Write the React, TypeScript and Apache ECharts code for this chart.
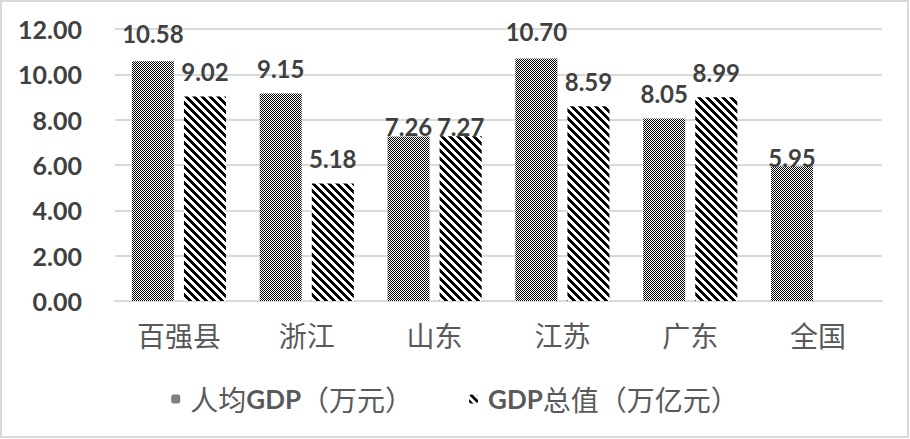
import React, { useEffect, useRef } from "react";
import * as echarts from "echarts";

const categories = ["百强县", "浙江", "山东", "江苏", "广东", "全国"];
const perCapita = [10.58, 9.15, 7.26, 10.7, 8.05, 5.95];
const totalGdp: (number | null)[] = [9.02, 5.18, 7.27, 8.59, 8.99, null];
const seriesNames = ["人均GDP（万元）", "GDP总值（万亿元）"];
const yTicks = { min: 0, max: 12, interval: 2 };

function makeTile(kind: "checker" | "stripe") {
  const size = 8;
  const c = document.createElement("canvas");
  c.width = size;
  c.height = size;
  const ctx = c.getContext("2d")!;
  const img = ctx.createImageData(size, size);
  for (let y = 0; y < size; y++) {
    for (let x = 0; x < size; x++) {
      let black: boolean;
      if (kind === "checker") black = (x + y) % 2 === 0;
      else black = (((x - y) % 8) + 8) % 8 < 4;
      const i = (y * size + x) * 4;
      const v = black ? 0 : 255;
      img.data[i] = v;
      img.data[i + 1] = v;
      img.data[i + 2] = v;
      img.data[i + 3] = 255;
    }
  }
  ctx.putImageData(img, 0, 0);
  return { image: c.toDataURL(), repeat: "repeat", imageWidth: size, imageHeight: size } as any;
}

// label placement tweaks (distance from bar top) for crowded categories
function labelDistance(seriesIdx: number, catIdx: number) {
  const cat = categories[catIdx];
  if (cat === "山东") return -2;
  if (cat === "全国") return -3;
  if (cat === "百强县" && seriesIdx === 0) return 16;
  if (cat === "江苏" && seriesIdx === 0) return 15;
  return 13;
}

export default function App() {
  const ref = useRef<HTMLDivElement>(null);
  useEffect(() => {
    const chart = echarts.init(ref.current!, null, { renderer: "svg" });
    const checker = makeTile("checker");
    const stripe = makeTile("stripe");
    const labelStyle = {
      show: true,
      position: "top" as const,
      fontFamily: "Lato",
      fontWeight: "bold" as const,
      fontSize: 24,
      color: "#404040",
      formatter: (p: any) => Number(p.value).toFixed(2),
    };
    const build = (vals: (number | null)[], sIdx: number) =>
      vals.map((v, i) => ({ value: v, label: { distance: labelDistance(sIdx, i) } }));
    chart.setOption({
      animation: false,
      backgroundColor: "#ffffff",
      graphic: [
        {
          type: "rect",
          shape: { x: 1, y: 1, width: 907, height: 436 },
          style: { fill: "none", stroke: "#d9d9d9", lineWidth: 2 },
          silent: true,
        },
      ],
      grid: { left: 115, right: 28, top: 29, bottom: 138 },
      legend: {
        data: seriesNames,
        left: "center",
        top: 380,
        itemWidth: 9,
        itemHeight: 9,
        itemGap: 56,
        textStyle: {
          padding: [0, 0, 0, 5],
          rich: {
            c: { fontFamily: "Noto Sans CJK SC", fontSize: 28, color: "#595959" },
            l: { fontFamily: "Lato", fontWeight: "bold", fontSize: 26, color: "#595959" },
          },
        },
        formatter: (name: string) =>
          name === seriesNames[0] ? "{c|人均}{l|GDP}{c|（万元）}" : "{l|GDP}{c|总值（万亿元）}",
      },
      xAxis: {
        type: "category",
        data: categories,
        axisLine: { show: true, lineStyle: { color: "#d9d9d9", width: 2 } },
        axisTick: { show: false },
        axisLabel: {
          margin: 20,
          fontFamily: "Noto Sans CJK SC",
          fontSize: 28,
          color: "#595959",
        },
      },
      yAxis: {
        type: "value",
        min: yTicks.min,
        max: yTicks.max,
        interval: yTicks.interval,
        axisLine: { show: false },
        axisTick: { show: false },
        splitLine: { lineStyle: { color: "#d9d9d9", width: 2 } },
        axisLabel: {
          margin: 33,
          fontFamily: "Lato",
          fontWeight: "bold",
          fontSize: 25,
          color: "#404040",
          formatter: (v: number) => v.toFixed(2),
        },
      },
      series: [
        {
          name: seriesNames[0],
          type: "bar",
          data: build(perCapita, 0),
          barWidth: 42,
          barGap: "24%",
          itemStyle: { color: checker },
          label: labelStyle,
        },
        {
          name: seriesNames[1],
          type: "bar",
          data: build(totalGdp, 1),
          barWidth: 42,
          barGap: "24%",
          itemStyle: { color: stripe },
          label: labelStyle,
        },
      ],
    });
    return () => chart.dispose();
  }, []);
  return (
    <div
      ref={ref}
      style={{ position: "fixed", left: 0, top: 0, width: 910, height: 439 }}
    />
  );
}
